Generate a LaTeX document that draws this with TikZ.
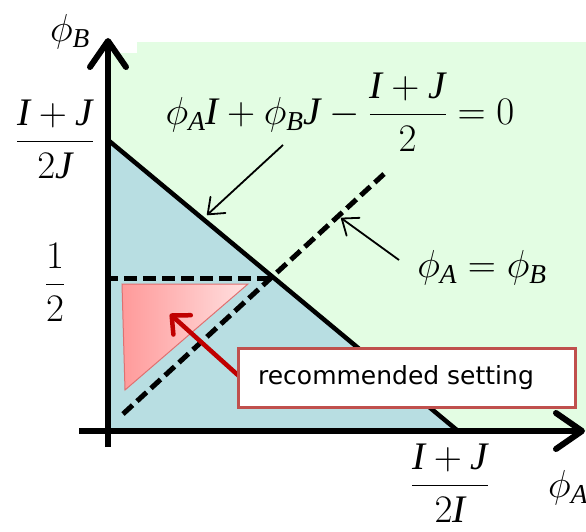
\RequirePackage{fix-cm}
\documentclass[tikz,border=0pt]{standalone}
\usepackage{amsmath}
\usepackage{fontspec}
\setmainfont{Liberation Serif}
\newfontfamily\labelfont{DejaVu Sans}
\usetikzlibrary{arrows.meta}
\newcommand{\vv}[1]{\mathit{#1}}
\newcommand{\phsub}[1]{\phi_{\mathit{#1}}}
\definecolor{bggreen}{HTML}{E3FDE3}
\definecolor{regionblue}{HTML}{B8DEE2}
\definecolor{darkred}{HTML}{C00000}
\definecolor{boxred}{HTML}{C0504D}
\definecolor{pinkL}{HTML}{FF9A9A}
\definecolor{pinkR}{HTML}{FFE0E0}
\definecolor{pinkedge}{HTML}{E07070}
\tikzset{
  axisline/.style={line width=6pt, -{Straight Barb[length=26pt,width=36pt,round]}},
  boundary/.style={line width=4.5pt},
  dashline/.style={line width=5pt, dash pattern=on 13pt off 6pt},
  thinarrow/.style={line width=1.8pt, -{Straight Barb[length=14pt,width=22pt,round]}},
  redarrow/.style={line width=4.5pt, darkred, -{Straight Barb[length=14pt,width=26pt,round]}},
  mathlabel/.style={font=\fontsize{39}{46}\selectfont, inner sep=0pt},
  recbox/.style={draw=boxred, line width=3pt, fill=white, minimum width=337pt, minimum height=59pt}
}
\begin{document}
\begin{tikzpicture}[x=1pt,y=-1pt]
\useasboundingbox (0,0) rectangle (586,532);
\clip (0,0) rectangle (586,532);
% backgrounds
\fill[bggreen] (110,53) rectangle (586,431);
\fill[bggreen] (137,42) rectangle (586,53);
% key points
\coordinate (ytop) at (108,140);
\coordinate (orig) at (108,431);
\coordinate (xright) at (458,431);
\coordinate (cross) at (274,278);
\fill[regionblue] (ytop) -- (orig) -- (xright) -- cycle;
% recommended region
\coordinate (pa) at (122,284);
\coordinate (pb) at (248,284);
\coordinate (pc) at (125,390);
\shadedraw[left color=pinkL, right color=pinkR, draw=pinkedge, line width=1pt] (pa) -- (pb) -- (pc) -- cycle;
% dashed lines
\coordinate (hstart) at (105,278);
\coordinate (dstart) at (123,414);
\coordinate (dend) at (384,174);
\draw[dashline] (hstart) -- (cross);
\draw[dashline] (dstart) -- (dend);
% boundary line
\draw[boundary] (ytop) -- (xright);
% axes
\coordinate (ybot) at (108,447);
\coordinate (ytip) at (108,38);
\coordinate (xleft) at (79,431);
\coordinate (xtip) at (585,431);
\draw[axisline] (ybot) -- (ytip);
\draw[axisline] (xleft) -- (xtip);
% labels
\node[mathlabel] (phiB) at (70,32) {$\phsub{B}$};
\node[mathlabel] (yJ) at (55,139) {$\dfrac{\vv{I}+\vv{J}}{2\vv{J}}$};
\node[mathlabel] (yhalf) at (55,282) {$\dfrac{1}{2}$};
\node[mathlabel] (xI) at (450,483) {$\dfrac{\vv{I}+\vv{J}}{2\vv{I}}$};
\node[mathlabel, anchor=west] (phiA) at (548,488) {$\phsub{A}$};
\node[mathlabel] (eqn) at (340,112) {$\phsub{A}\vv{I}+\phsub{B}\vv{J}-\dfrac{\vv{I}+\vv{J}}{2}=0$};
\node[mathlabel] (diag) at (482,268) {$\phsub{A}=\phsub{B}$};
% pointer arrows
\coordinate (eqtail) at (283,145);
\coordinate (eqtip) at (207,215);
\draw[thinarrow] (eqtail) -- (eqtip);
\coordinate (dgtail) at (399,260);
\coordinate (dgtip) at (341,218);
\draw[thinarrow] (dgtail) -- (dgtip);
% recommended setting
\coordinate (rectail) at (240,377);
\coordinate (rectip) at (170,314);
\draw[redarrow] (rectail) -- (rectip);
\node[recbox] (rec) at (406.5,377.5) {};
\node[font=\labelfont\fontsize{25}{30}\selectfont] (rectext) at (396,378) {recommended setting};
\end{tikzpicture}
\end{document}
